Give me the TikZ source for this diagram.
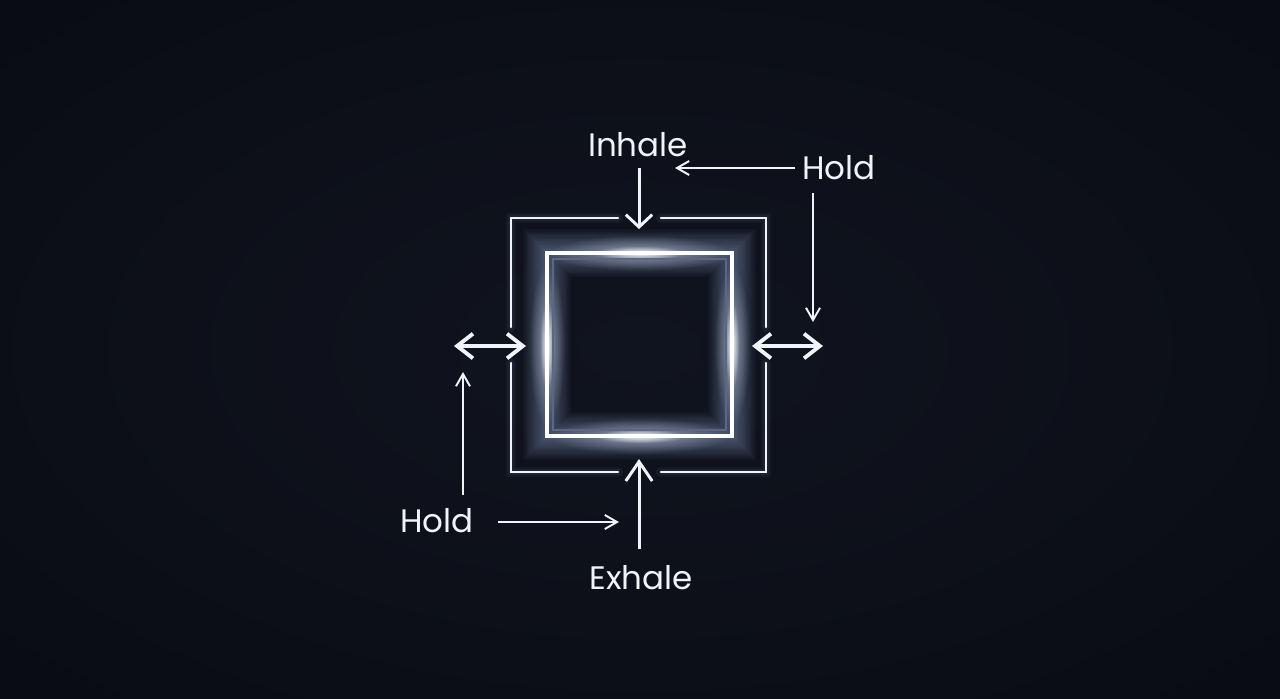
\documentclass[tikz,border=0pt]{standalone}
\usepackage{fontspec}
\setmainfont{Poppins}
\usetikzlibrary{arrows.meta,fadings}
\definecolor{bgcentre}{RGB}{16,20,31}
\definecolor{bgedge}{RGB}{4,5,8}
\definecolor{glow}{RGB}{165,188,232}
\definecolor{ink}{RGB}{240,243,248}
\pgfdeclareradialshading{vignette}{\pgfpoint{0bp}{0bp}}{color(0bp)=(bgcentre); color(18bp)=(bgcentre!75!bgedge); color(60bp)=(bgedge); color(100bp)=(bgedge)}
\tikzfading[name=spot, inner color=transparent!0, outer color=transparent!100]
\tikzset{
  word/.style={text=ink,font=\fontsize{18.5}{22}\selectfont,inner sep=4pt},
  bracket/.style={draw=ink,line width=1.4pt,line cap=round},
}

\begin{document}
\begin{tikzpicture}[x=0.02cm,y=-0.02cm]
\shade[shading=vignette] (0,0) rectangle (1280,698);
\useasboundingbox (0,0) rectangle (1280,698);

\foreach \i in {1,...,20}
  \draw[glow,line width=1.35*\i pt,opacity=0.026] (547,253) rectangle (732,436);
\foreach \c/\a/\b in {{(640,253)}/90/18,{(640,436)}/90/18,{(547,345)}/18/80,{(732,345)}/18/80}
  \fill[glow!40!white,path fading=spot,opacity=0.5] \c ellipse ({\a} and {\b});
\foreach \c/\a/\b in {{(640,253)}/45/7,{(640,436)}/45/7,{(547,345)}/7/45,{(732,345)}/7/45}
  \fill[white,path fading=spot,opacity=0.9] \c ellipse ({\a} and {\b});
\draw[glow!50!bgcentre,line width=1pt] (553,259) rectangle (726,430);
\draw[white,line width=2.3pt] (547,253) rectangle (732,436);

\coordinate (tl) at (511,218);
\coordinate (tr) at (766,218);
\coordinate (bl) at (511,472);
\coordinate (br) at (766,472);
\begin{scope}[every path/.style={bracket}]
    \foreach \w in {3,6}
      \draw[glow,line width=\w pt,opacity=0.05] (618,218) -- (tl) -- (511,327) (661,218) -- (tr) -- (766,327)
        (511,363) -- (bl) -- (618,472) (661,472) -- (br) -- (766,363);
    \draw (618,218) -- (tl) -- (511,327);
    \draw (661,218) -- (tr) -- (766,327);
    \draw (511,363) -- (bl) -- (618,472);
    \draw (661,472) -- (br) -- (766,363);
\end{scope}

\begin{scope}[every node/.style={word}]
    \node (inhale) at (638,145) {Inhale};
    \node (holdT) at (839,168) {Hold};
    \node (exhale) at (641,578) {Exhale};
    \node (holdB) at (437,521) {Hold};
\end{scope}

\coordinate (inhaleFrom) at (639,168);
\coordinate (inhaleTo) at (639,229);
\coordinate (exhaleFrom) at (639,549);
\coordinate (exhaleTo) at (639,459);
\coordinate (holdTLeft) at (675,168);
\coordinate (holdTFrom) at (813,193);
\coordinate (holdTDown) at (813,322);
\coordinate (holdBFrom) at (463,495);
\coordinate (holdBUp) at (463,372);
\coordinate (holdBStart) at (498,522);
\coordinate (holdBRight) at (619,522);
\coordinate (leftA) at (454,346);
\coordinate (leftB) at (526,346);
\coordinate (rightA) at (752,346);
\coordinate (rightB) at (823,346);

\begin{scope}[>={Straight Barb[length=7pt,width=15pt]},
              every edge/.style={draw=ink,line width=1.7pt}]
    \path [->] (inhaleFrom) edge (inhaleTo);
\end{scope}
\begin{scope}[>={Straight Barb[length=11pt,width=15pt]},
              every edge/.style={draw=ink,line width=1.7pt}]
    \path [->] (exhaleFrom) edge (exhaleTo);
\end{scope}
\begin{scope}[>={Straight Barb[length=9pt,width=14pt]},
              every edge/.style={draw=ink,line width=2.2pt}]
    \path [<->] (leftA) edge (leftB);
    \path [<->] (rightA) edge (rightB);
\end{scope}
\begin{scope}[>={Straight Barb[length=7pt,width=8pt]},
              every edge/.style={draw=ink,line width=1.1pt}]
    \path [->] (holdT.west) edge (holdTLeft);
    \path [->] (holdTFrom) edge (holdTDown);
    \path [->] (holdBFrom) edge (holdBUp);
    \path [->] (holdBStart) edge (holdBRight);
\end{scope}
\end{tikzpicture}
\end{document}
